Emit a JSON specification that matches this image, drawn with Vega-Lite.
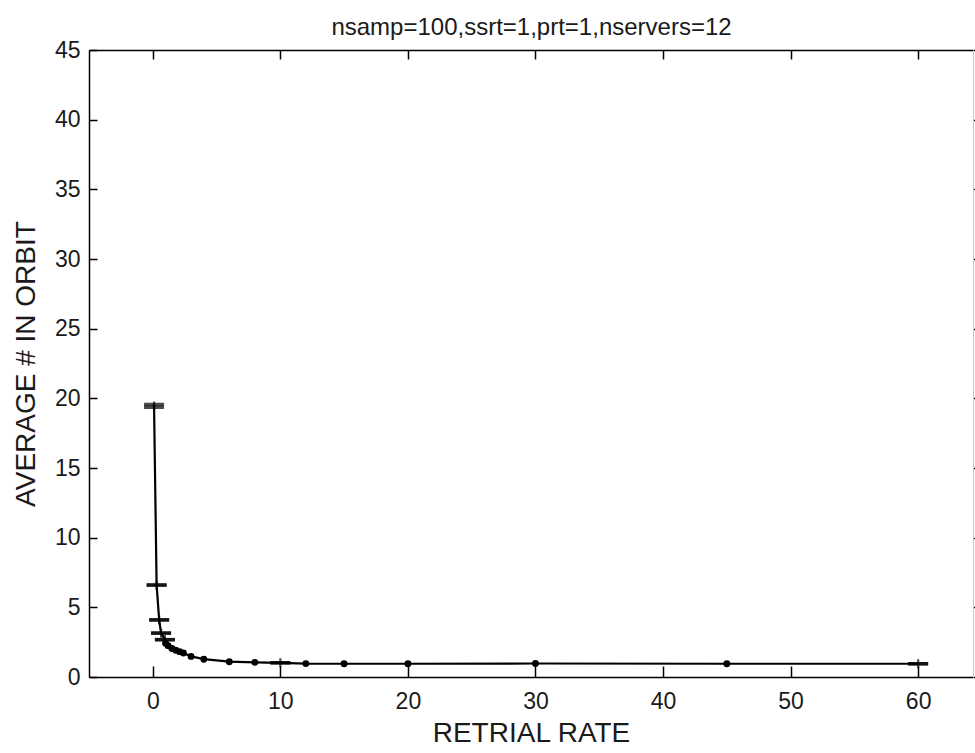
{
  "$schema": "https://vega.github.io/schema/vega-lite/v6.json",
  "width": 884,
  "height": 627,
  "autosize": {"type": "none"},
  "padding": {"left": 89, "top": 50, "right": 2, "bottom": 76},
  "background": "white",
  "config": {
    "view": {"stroke": null},
    "font": "Liberation Sans",
    "axis": {
      "grid": false,
      "domainColor": "black",
      "domainWidth": 1.5,
      "tickColor": "black",
      "tickWidth": 1.5,
      "labelFont": "Liberation Sans",
      "labelFontSize": 23,
      "labelColor": "#1a1a1a",
      "titleFont": "Liberation Sans",
      "titleFontSize": 28,
      "titleFontWeight": "normal",
      "titleColor": "#1a1a1a"
    }
  },
  "data": {
    "values": [
      {"x": 0.1, "y": 19.45, "lo": 19.36, "hi": 19.56, "k": "cap"},
      {"x": 0.3, "y": 6.6, "lo": 6.6, "hi": 6.6, "k": "cap"},
      {"x": 0.5, "y": 4.1, "lo": 4.1, "hi": 4.1, "k": "cap"},
      {"x": 0.65, "y": 3.15, "lo": 3.15, "hi": 3.15, "k": "cap"},
      {"x": 0.95, "y": 2.68, "lo": 2.68, "hi": 2.68, "k": "cap"},
      {"x": 1.0, "y": 2.42, "lo": 2.42, "hi": 2.42, "k": "dot"},
      {"x": 1.2, "y": 2.25, "lo": 2.25, "hi": 2.25, "k": "dot"},
      {"x": 1.5, "y": 2.05, "lo": 2.05, "hi": 2.05, "k": "dot"},
      {"x": 1.8, "y": 1.92, "lo": 1.92, "hi": 1.92, "k": "dot"},
      {"x": 2.1, "y": 1.82, "lo": 1.82, "hi": 1.82, "k": "dot"},
      {"x": 2.4, "y": 1.72, "lo": 1.72, "hi": 1.72, "k": "dot"},
      {"x": 3.0, "y": 1.48, "lo": 1.48, "hi": 1.48, "k": "dot"},
      {"x": 4.0, "y": 1.28, "lo": 1.28, "hi": 1.28, "k": "dot"},
      {"x": 6.0, "y": 1.1, "lo": 1.1, "hi": 1.1, "k": "dot"},
      {"x": 8.0, "y": 1.05, "lo": 1.05, "hi": 1.05, "k": "dot"},
      {"x": 10.0, "y": 1.02, "lo": 1.02, "hi": 1.02, "k": "cap"},
      {"x": 12.0, "y": 0.96, "lo": 0.96, "hi": 0.96, "k": "dot"},
      {"x": 15.0, "y": 0.95, "lo": 0.95, "hi": 0.95, "k": "dot"},
      {"x": 20.0, "y": 0.95, "lo": 0.95, "hi": 0.95, "k": "dot"},
      {"x": 30.0, "y": 0.97, "lo": 0.97, "hi": 0.97, "k": "dot"},
      {"x": 45.0, "y": 0.95, "lo": 0.95, "hi": 0.95, "k": "dot"},
      {"x": 60.0, "y": 0.95, "lo": 0.95, "hi": 0.95, "k": "cap"}
    ]
  },
  "layer": [
    {
      "mark": {"type": "line", "color": "black", "strokeWidth": 2.2},
      "encoding": {
        "x": {
          "field": "x", "type": "quantitative",
          "scale": {"domain": [-5, 64.3], "nice": false, "zero": false},
          "axis": {
            "orient": "bottom",
            "values": [0, 10, 20, 30, 40, 50, 60],
            "tickSize": -11,
            "labelPadding": 24,
            "labelFlush": false,
            "title": "RETRIAL RATE",
            "titleX": 442,
            "titleY": 56,
            "titleAlign": "center",
            "titleBaseline": "middle"
          }
        },
        "y": {
          "field": "y", "type": "quantitative",
          "scale": {"domain": [0, 45], "nice": false, "zero": false},
          "axis": {
            "orient": "left",
            "values": [0, 5, 10, 15, 20, 25, 30, 35, 40, 45],
            "tickSize": -8,
            "labelPadding": 17,
            "labelBaseline": "middle",
            "labelFlush": false,
            "title": "AVERAGE # IN ORBIT",
            "titleAngle": -90,
            "titleX": -63,
            "titleY": 313.5,
            "titleAlign": "center",
            "titleBaseline": "middle"
          }
        }
      }
    },
    {
      "transform": [{"filter": "datum.k === 'cap'"}],
      "mark": {"type": "rule", "color": "black", "strokeWidth": 2.5},
      "encoding": {
        "x": {"field": "x", "type": "quantitative", "axis": null},
        "y": {"field": "lo", "type": "quantitative", "axis": null},
        "y2": {"field": "hi"}
      }
    },
    {
      "transform": [{"filter": "datum.k === 'cap'"}],
      "mark": {"type": "tick", "orient": "vertical", "size": 9, "thickness": 2.2, "color": "black"},
      "encoding": {
        "x": {"field": "x", "type": "quantitative", "axis": null},
        "y": {"field": "y", "type": "quantitative", "axis": null}
      }
    },
    {
      "transform": [{"filter": "datum.k === 'cap'"}],
      "mark": {"type": "tick", "orient": "horizontal", "size": 20, "thickness": 3.5, "color": "black"},
      "encoding": {
        "x": {"field": "x", "type": "quantitative", "axis": null},
        "y": {"field": "lo", "type": "quantitative", "axis": null}
      }
    },
    {
      "transform": [{"filter": "datum.k === 'cap'"}],
      "mark": {"type": "tick", "orient": "horizontal", "size": 20, "thickness": 3.5, "color": "black"},
      "encoding": {
        "x": {"field": "x", "type": "quantitative", "axis": null},
        "y": {"field": "hi", "type": "quantitative", "axis": null}
      }
    },
    {
      "transform": [{"filter": "datum.k === 'dot'"}],
      "mark": {"type": "point", "shape": "circle", "filled": true, "size": 48, "color": "black", "opacity": 1},
      "encoding": {
        "x": {"field": "x", "type": "quantitative", "axis": null},
        "y": {"field": "y", "type": "quantitative", "axis": null}
      }
    },
    {
      "mark": {"type": "point", "opacity": 0},
      "encoding": {
        "x": {
          "field": "x", "type": "quantitative",
          "axis": {
            "orient": "top",
            "values": [0, 10, 20, 30, 40, 50, 60],
            "labels": false,
            "tickSize": -9,
            "title": "nsamp=100,ssrt=1,prt=1,nservers=12",
            "titleFontSize": 24,
            "titleX": 442,
            "titleY": -16,
            "titleAlign": "center",
            "titleBaseline": "alphabetic"
          }
        },
        "y": {
          "field": "y", "type": "quantitative",
          "axis": {"orient": "right", "values": [0, 5, 10, 15, 20, 25, 30, 35, 40, 45], "labels": false, "title": null, "tickSize": 3, "domainColor": "#c8c8c8", "domainWidth": 1}
        }
      }
    }
  ],
  "resolve": {"axis": {"x": "independent", "y": "independent"}}
}
